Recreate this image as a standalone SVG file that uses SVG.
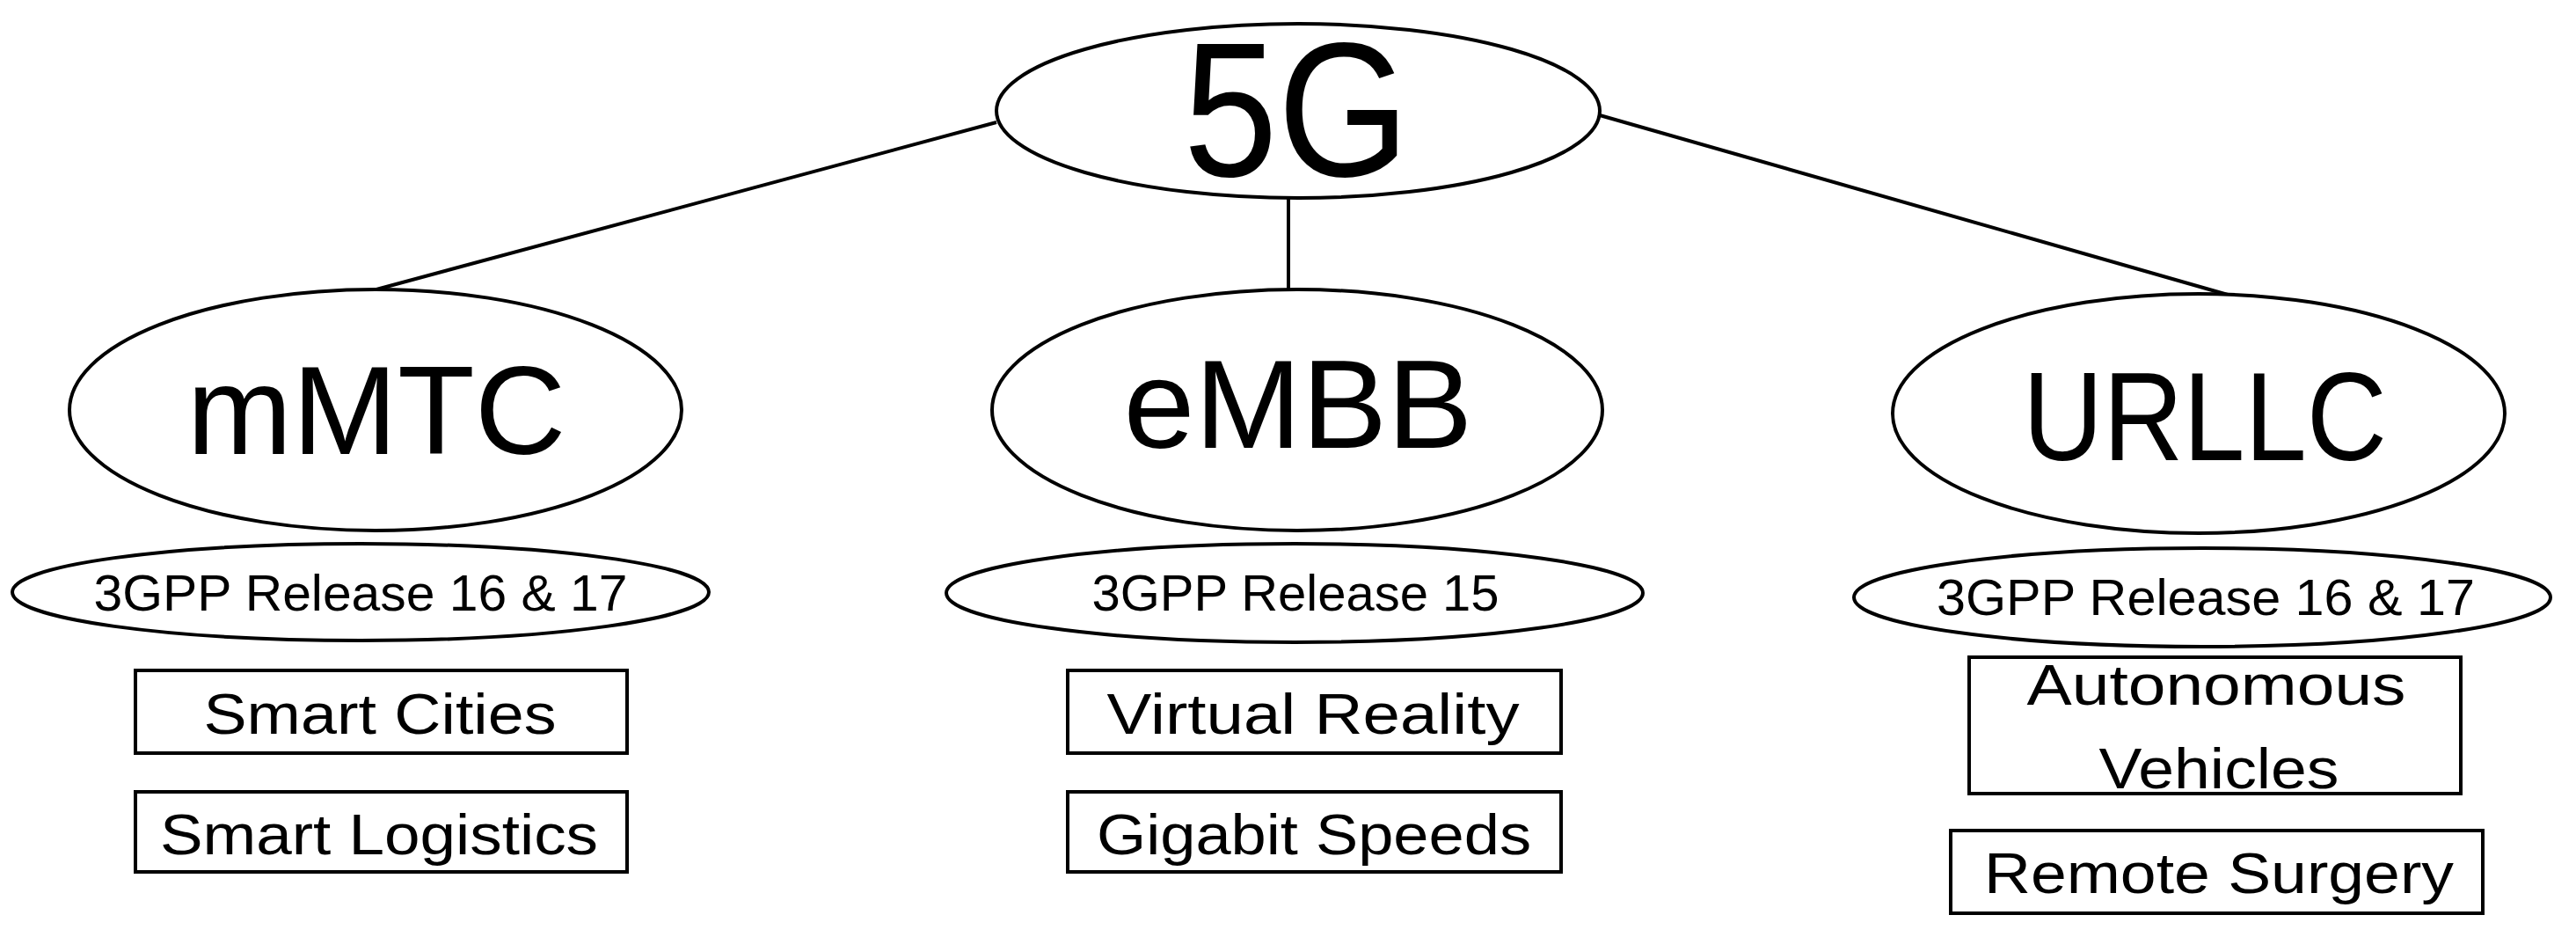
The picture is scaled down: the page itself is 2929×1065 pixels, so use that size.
<svg xmlns="http://www.w3.org/2000/svg" width="2929" height="1065" viewBox="0 0 2929 1065">
<style>
.s{fill:#fff;stroke:#000;stroke-width:4}
.c{stroke:#000;stroke-width:4;fill:none}
text{font-family:"Liberation Sans",Arial,sans-serif;fill:#000;text-anchor:middle}
.b{font-size:142px}
.m{font-size:58px}
.t{font-size:64px}
</style>
<g id="connectors">
<line class="c" x1="1133" y1="139" x2="428" y2="329"/>
<line class="c" x1="1465" y1="224" x2="1465" y2="330"/>
<line class="c" x1="1819" y1="131" x2="2533" y2="335"/>
</g>
<g id="n5g"><ellipse class="s" cx="1476" cy="126" rx="343" ry="99"/><text x="1474" y="200" font-size="218" textLength="257" lengthAdjust="spacingAndGlyphs">5G</text></g>
<g id="mmtc"><ellipse class="s" cx="427" cy="466" rx="348" ry="137"/><text class="b" x="428" y="516" textLength="431" lengthAdjust="spacingAndGlyphs">mMTC</text></g>
<g id="embb"><ellipse class="s" cx="1475" cy="466" rx="347" ry="137"/><text class="b" x="1476" y="509" textLength="397" lengthAdjust="spacingAndGlyphs">eMBB</text></g>
<g id="urllc"><ellipse class="s" cx="2500" cy="470" rx="348" ry="136"/><text class="b" x="2507" y="523" textLength="414" lengthAdjust="spacingAndGlyphs">URLLC</text></g>
<g id="rel1"><ellipse class="s" cx="410" cy="673" rx="396" ry="55"/><text class="m" x="410" y="694" textLength="607" lengthAdjust="spacingAndGlyphs">3GPP Release 16 &amp; 17</text></g>
<g id="rel2"><ellipse class="s" cx="1472" cy="674" rx="396" ry="56"/><text class="m" x="1473" y="694" textLength="463" lengthAdjust="spacingAndGlyphs">3GPP Release 15</text></g>
<g id="rel3"><ellipse class="s" cx="2504" cy="679" rx="396" ry="56"/><text class="m" x="2508" y="699" textLength="612" lengthAdjust="spacingAndGlyphs">3GPP Release 16 &amp; 17</text></g>
<g id="cities"><rect class="s" x="154" y="762" width="559" height="94"/><text class="t" x="432" y="834" textLength="401" lengthAdjust="spacingAndGlyphs">Smart Cities</text></g>
<g id="logistics"><rect class="s" x="154" y="900" width="559" height="91"/><text class="t" x="431" y="971" textLength="498" lengthAdjust="spacingAndGlyphs">Smart Logistics</text></g>
<g id="vr"><rect class="s" x="1214" y="762" width="561" height="94"/><text class="t" x="1493" y="834" textLength="469" lengthAdjust="spacingAndGlyphs">Virtual Reality</text></g>
<g id="giga"><rect class="s" x="1214" y="900" width="561" height="91"/><text class="t" x="1494" y="971" textLength="494" lengthAdjust="spacingAndGlyphs">Gigabit Speeds</text></g>
<g id="auto"><rect class="s" x="2239" y="747" width="559" height="155"/><text class="t" x="2520" y="801" textLength="431" lengthAdjust="spacingAndGlyphs">Autonomous</text><text class="t" x="2523" y="896" textLength="273" lengthAdjust="spacingAndGlyphs">Vehicles</text><line class="c" x1="2239" y1="902" x2="2798" y2="902"/></g>
<g id="surgery"><rect class="s" x="2218" y="944" width="605" height="94"/><text class="t" x="2523" y="1015" textLength="534" lengthAdjust="spacingAndGlyphs">Remote Surgery</text></g>
</svg>
